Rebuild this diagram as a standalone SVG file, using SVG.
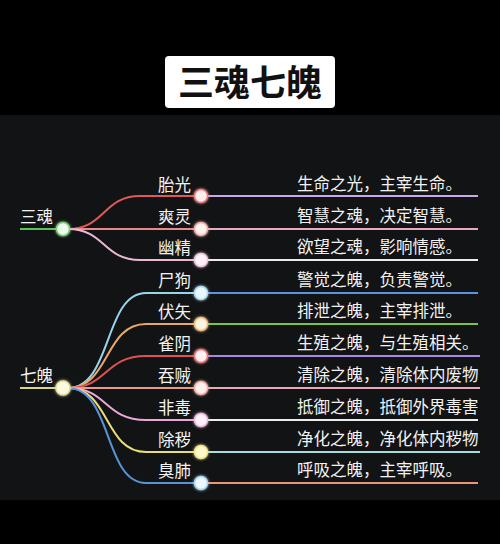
<svg xmlns="http://www.w3.org/2000/svg" width="500" height="544" viewBox="0 0 500 544">
<defs>
<style>
text{font-family:"Noto Sans CJK SC","Noto Sans",sans-serif;}
.title{font-size:36px;font-weight:bold;fill:#111;text-anchor:middle;}
.lbl{font-size:16.5px;fill:#f2f2f2;}
.cl{text-anchor:end;}
.desc{font-size:16.5px;fill:#f2f2f2;}
.c{fill:none;stroke-width:2;}
.ln{fill:none;stroke-width:2;}
.nd{stroke-width:1.5;filter:url(#glow);}
</style>
<filter id="glow" x="-100%" y="-100%" width="300%" height="300%">
<feGaussianBlur in="SourceGraphic" stdDeviation="1.8" result="b"/>
<feMerge><feMergeNode in="b"/><feMergeNode in="SourceGraphic"/></feMerge>
</filter>
</defs>
<rect x="0" y="0" width="500" height="544" fill="#000"/>
<rect x="0" y="115" width="500" height="385" fill="#121314"/>
<g id="title">
<rect x="165" y="56" width="170" height="52" rx="4" fill="#fff"/>
<text class="title" x="250" y="96">三魂七魄</text>
</g>
<g id="connectors">
<line class="ln" x1="20" y1="229" x2="60" y2="229" stroke="#5cc05c"/>
<path class="c" d="M68,229 C105,229 103,196 140,196 L196,196" stroke="#e05858"/>
<path class="c" d="M68,229 L196,229" stroke="#e88a8a"/>
<path class="c" d="M68,229 C105,229 103,260 140,260 L196,260" stroke="#eab8d4"/>
<line class="ln" x1="206" y1="196" x2="478" y2="196" stroke="#c8a8e8"/>
<line class="ln" x1="206" y1="229" x2="478" y2="229" stroke="#e8a8c4"/>
<line class="ln" x1="206" y1="260" x2="478" y2="260" stroke="#f0e8f0"/>
<line class="ln" x1="20" y1="388" x2="58" y2="388" stroke="#d8d488"/>
<path class="c" d="M68,388 C112,388 104,293 146,293 L196,293" stroke="#98d4ec"/>
<path class="c" d="M68,388 C110,388 104,324 146,324 L196,324" stroke="#eaa868"/>
<path class="c" d="M68,388 C108,388 104,356 146,356 L196,356" stroke="#e05252"/>
<path class="c" d="M68,388 L196,388" stroke="#ec9a88"/>
<path class="c" d="M68,388 C108,388 104,420 146,420 L196,420" stroke="#eaa8d8"/>
<path class="c" d="M68,388 C110,388 104,452 146,452 L196,452" stroke="#ecdc78"/>
<path class="c" d="M68,388 C112,388 104,483 146,483 L196,483" stroke="#5894d4"/>
<line class="ln" x1="206" y1="293" x2="478" y2="293" stroke="#5a94e0"/>
<line class="ln" x1="206" y1="324" x2="478" y2="324" stroke="#78c448"/>
<line class="ln" x1="206" y1="356" x2="480" y2="356" stroke="#a888e4"/>
<line class="ln" x1="206" y1="388" x2="480" y2="388" stroke="#e8a8b8"/>
<line class="ln" x1="206" y1="420" x2="478" y2="420" stroke="#ececec"/>
<line class="ln" x1="206" y1="452" x2="480" y2="452" stroke="#a8dcdc"/>
<line class="ln" x1="206" y1="483" x2="478" y2="483" stroke="#e89878"/>
</g>
<g id="hun">
<text class="lbl" x="20" y="223">三魂</text>
<circle class="nd" cx="63" cy="229" r="6.5" fill="#eefcee" stroke="#7ad07a"/>
</g>
<g id="po">
<text class="lbl" x="20" y="382">七魄</text>
<circle class="nd" cx="63" cy="388" r="7" fill="#fcf8e0" stroke="#e0dc9c"/>
</g>
<g id="taiguang">
<text class="lbl cl" x="191" y="191">胎光</text>
<circle class="nd" cx="201" cy="196" r="6.5" fill="#fdeeee" stroke="#e87c7c"/>
<text class="desc" x="297" y="190">生命之光，主宰生命。</text>
</g>
<g id="shuangling">
<text class="lbl cl" x="191" y="223">爽灵</text>
<circle class="nd" cx="201" cy="229" r="6.5" fill="#fcf2ee" stroke="#eeaaa4"/>
<text class="desc" x="297" y="222">智慧之魂，决定智慧。</text>
</g>
<g id="youjing">
<text class="lbl cl" x="191" y="254">幽精</text>
<circle class="nd" cx="201" cy="260" r="6.5" fill="#fcf2f8" stroke="#eec8de"/>
<text class="desc" x="297" y="253">欲望之魂，影响情感。</text>
</g>
<g id="shigou">
<text class="lbl cl" x="191" y="287">尸狗</text>
<circle class="nd" cx="201" cy="293" r="6.5" fill="#e8f8fc" stroke="#aadcf0"/>
<text class="desc" x="297" y="286">警觉之魄，负责警觉。</text>
</g>
<g id="fushi">
<text class="lbl cl" x="191" y="318">伏矢</text>
<circle class="nd" cx="201" cy="324" r="6.5" fill="#fcf4dc" stroke="#eebc84"/>
<text class="desc" x="297" y="317">排泄之魄，主宰排泄。</text>
</g>
<g id="queyin">
<text class="lbl cl" x="191" y="350">雀阴</text>
<circle class="nd" cx="201" cy="356" r="6.5" fill="#fdeef2" stroke="#e87878"/>
<text class="desc" x="297" y="349">生殖之魄，与生殖相关。</text>
</g>
<g id="tunzei">
<text class="lbl cl" x="191" y="382">吞贼</text>
<circle class="nd" cx="201" cy="388" r="6.5" fill="#fcefec" stroke="#f0b0a4"/>
<text class="desc" x="297" y="381">清除之魄，清除体内废物</text>
</g>
<g id="feidu">
<text class="lbl cl" x="191" y="414">非毒</text>
<circle class="nd" cx="201" cy="420" r="6.5" fill="#fdf2f8" stroke="#eebce0"/>
<text class="desc" x="297" y="413">抵御之魄，抵御外界毒害</text>
</g>
<g id="chuhui">
<text class="lbl cl" x="191" y="446">除秽</text>
<circle class="nd" cx="201" cy="452" r="6.5" fill="#fcf8c8" stroke="#f0e290"/>
<text class="desc" x="297" y="445">净化之魄，净化体内秽物</text>
</g>
<g id="choufei">
<text class="lbl cl" x="191" y="477">臭肺</text>
<circle class="nd" cx="201" cy="483" r="6.5" fill="#ecf8fc" stroke="#a8d4f0"/>
<text class="desc" x="297" y="476">呼吸之魄，主宰呼吸。</text>
</g>
</svg>
